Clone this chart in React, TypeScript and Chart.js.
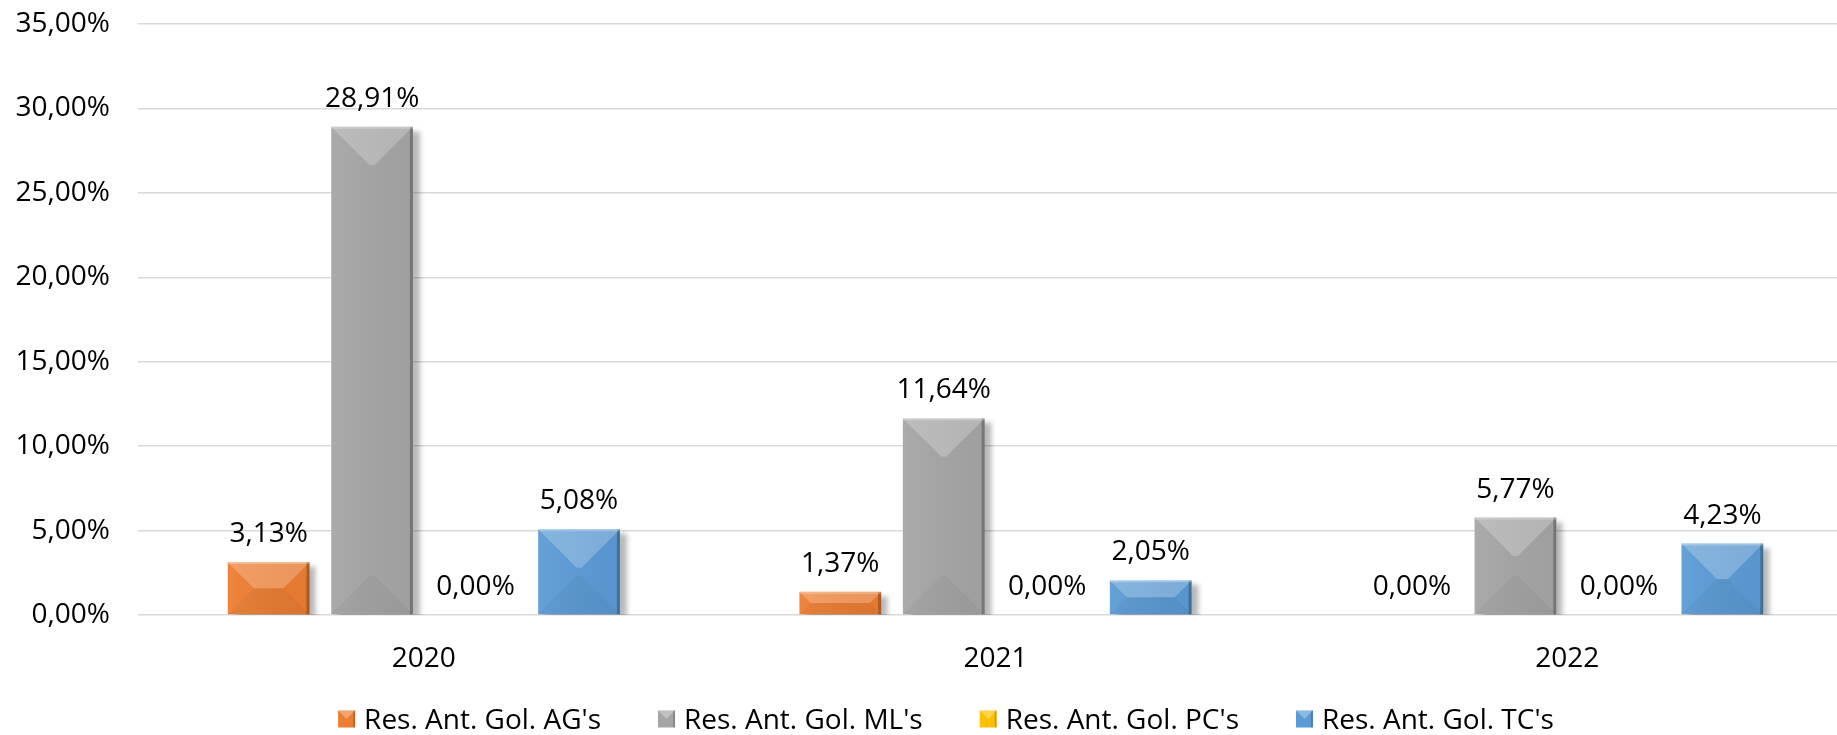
import React, { useEffect, useRef } from 'react';
import { Chart, registerables } from 'chart.js';

Chart.register(...registerables);

const categories = ['2020', '2021', '2022'];
const seriesLabels = ["Res. Ant. Gol. AG's", "Res. Ant. Gol. ML's", "Res. Ant. Gol. PC's", "Res. Ant. Gol. TC's"];
const agValues = [3.13, 1.37, 0];
const mlValues = [28.91, 11.64, 5.77];
const pcValues = [0, 0, 0];
const tcValues = [5.08, 2.05, 4.23];
const seriesColors = ['#ED7D31', '#A5A5A5', '#FFC000', '#5B9BD5'];
const yMin = 0;
const yMax = 35;
const yStep = 5;

const FONT = '"Open Sans", "Noto Sans", sans-serif';
const TEXT_COLOR = '#000000';

const fmt = (v: number) => v.toFixed(2).replace('.', ',') + '%';

const poly = (ctx: CanvasRenderingContext2D, pts: number[][], color: string) => {
  ctx.beginPath();
  ctx.moveTo(pts[0][0], pts[0][1]);
  for (let i = 1; i < pts.length; i++) ctx.lineTo(pts[i][0], pts[i][1]);
  ctx.closePath();
  ctx.fillStyle = color;
  ctx.fill();
};

const barStylePlugin = {
  id: 'barStyle',
  beforeDatasetsDraw(chart: any) {
    const ctx = chart.ctx;
    ctx.save();
    ctx.shadowColor = 'rgba(0,0,0,0.28)';
    ctx.shadowOffsetX = 7;
    ctx.shadowOffsetY = 4;
    ctx.shadowBlur = 5;
  },
  afterDatasetsDraw(chart: any) {
    const ctx = chart.ctx;
    ctx.restore();
    ctx.save();
    chart.data.datasets.forEach((ds: any, di: number) => {
      const meta = chart.getDatasetMeta(di);
      meta.data.forEach((el: any, i: number) => {
        const { x, y, base, width } = el.getProps(['x', 'y', 'base', 'width'], true);
        const L = x - width / 2;
        const R = x + width / 2;
        const T = Math.min(y, base);
        const B = Math.max(y, base);
        const h = B - T;
        if (h >= 1) {
          const b = Math.min(width * 0.47, h / 2);
          const g = ctx.createLinearGradient(L, 0, R, 0);
          g.addColorStop(0, 'rgba(255,255,255,0.06)');
          g.addColorStop(1, 'rgba(0,0,0,0.04)');
          ctx.fillStyle = g;
          ctx.fillRect(L, T, width, h);
          poly(ctx, [[L, T], [R, T], [R - b, T + b], [L + b, T + b]], 'rgba(255,255,255,0.22)');
          poly(ctx, [[L, B], [R, B], [R - b, B - b], [L + b, B - b]], 'rgba(0,0,0,0.035)');
          ctx.fillStyle = 'rgba(0,0,0,0.25)';
          ctx.fillRect(R - 3, T, 3, h);
          ctx.fillStyle = 'rgba(255,255,255,0.25)';
          ctx.fillRect(L, T, width, 2);
        }
        const val = ds.data[i];
        ctx.font = `28px ${FONT}`;
        ctx.fillStyle = TEXT_COLOR;
        ctx.textAlign = 'center';
        ctx.textBaseline = 'alphabetic';
        ctx.fillText(fmt(val), x, T - 20);
      });
    });
    ctx.restore();
  },
  afterDraw(chart: any) {
    const ctx = chart.ctx;
    ctx.save();
    ctx.font = `28px ${FONT}`;
    const box = 17;
    const textGap = 9;
    const itemGap = 57;
    const widths = seriesLabels.map((t) => ctx.measureText(t).width);
    const total = widths.reduce((a, w) => a + box + textGap + w, 0) + itemGap * (seriesLabels.length - 1);
    const legendCenterX = 946;
    let xPos = legendCenterX - total / 2;
    const yc = 719;
    seriesLabels.forEach((label, i) => {
      const c = seriesColors[i];
      ctx.fillStyle = c;
      ctx.fillRect(xPos, yc - box / 2, box, box);
      poly(ctx, [[xPos, yc - box / 2], [xPos + box, yc - box / 2], [xPos + box / 2, yc]], 'rgba(255,255,255,0.3)');
      ctx.fillStyle = 'rgba(0,0,0,0.18)';
      ctx.fillRect(xPos + box - 2, yc - box / 2, 2, box);
      ctx.fillStyle = TEXT_COLOR;
      ctx.textAlign = 'left';
      ctx.textBaseline = 'alphabetic';
      ctx.fillText(label, xPos + box + textGap, yc + 10);
      xPos += box + textGap + widths[i] + itemGap;
    });
    ctx.restore();
  },
};

export default function App() {
  const canvasRef = useRef<HTMLCanvasElement | null>(null);

  useEffect(() => {
    document.body.style.margin = '0';
    const canvas = canvasRef.current;
    if (!canvas) return;
    const seriesData = [agValues, mlValues, pcValues, tcValues];
    const chart = new Chart(canvas, {
      type: 'bar',
      data: {
        labels: categories,
        datasets: seriesData.map((d, i) => ({
          label: seriesLabels[i],
          data: d,
          backgroundColor: seriesColors[i],
          borderWidth: 0,
          categoryPercentage: 0.724,
          barPercentage: 0.79,
        })),
      },
      options: {
        responsive: false,
        animation: false,
        layout: { padding: { top: 24, bottom: 0, left: 0, right: 2 } },
        plugins: {
          legend: { display: false },
          tooltip: { enabled: false },
        },
        scales: {
          x: {
            grid: { display: false },
            border: { display: false },
            ticks: {
              font: { family: FONT, size: 28 },
              color: TEXT_COLOR,
              padding: 19,
            },
            afterFit: (scale: any) => {
              scale.height = 120;
            },
          },
          y: {
            min: yMin,
            max: yMax,
            grid: { color: '#D9D9D9', lineWidth: 1.5, drawTicks: false },
            border: { display: false },
            ticks: {
              stepSize: yStep,
              font: { family: FONT, size: 28 },
              color: TEXT_COLOR,
              padding: 28,
              callback: (v: any) => fmt(Number(v)),
            },
            afterFit: (scale: any) => {
              scale.width = 138;
              scale.paddingTop = 10;
              scale.paddingBottom = 10;
            },
          },
        },
      },
      plugins: [barStylePlugin],
    });
    return () => chart.destroy();
  }, []);

  return (
    <div style={{ width: 1837, height: 735, overflow: 'hidden', position: 'relative' }}>
      <canvas ref={canvasRef} width={1855} height={735} style={{ display: 'block' }} />
    </div>
  );
}
